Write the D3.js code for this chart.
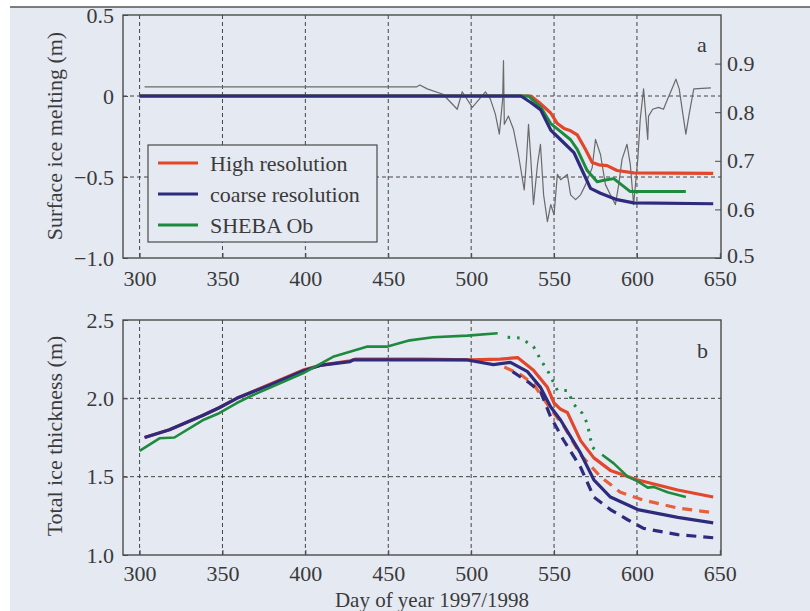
<!DOCTYPE html>
<html>
<head>
<meta charset="utf-8">
<script src="https://cdnjs.cloudflare.com/ajax/libs/d3/7.8.5/d3.min.js"></script>
<style>
  body { margin: 0; background: #fff; }
  svg text { font-family: "Liberation Serif", "DejaVu Serif", serif; fill: #3a3a3a; }
</style>
</head>
<body>
<div id="viz"></div>
<script>
(function() {
  var W = 810, H = 611;

  // x ticks shared by both panels
  var dayTicks = [300, 350, 400, 450, 500, 550, 600, 650];
  var meltTicks = [-1.0, -0.5, 0, 0.5];
  var albedoTicks = [0.5, 0.6, 0.7, 0.8, 0.9];
  var thickTicks = [1.0, 1.5, 2.0, 2.5];
  var legendNames = ["High resolution", "coarse resolution", "SHEBA Ob"];

  // panel a: surface melt (m), [day, value]
  var highMelt = [[300, 0], [536, 0], [541, -0.04], [548, -0.105], [552, -0.17], [556, -0.2], [560, -0.215],
    [564, -0.24], [569, -0.33], [573, -0.41], [577, -0.425], [582, -0.43], [588, -0.46], [598, -0.475], [646, -0.478]];
  var coarseMelt = [[300, 0], [530, 0], [536, -0.04], [542, -0.087], [548, -0.21], [554, -0.27], [562, -0.35],
    [567, -0.46], [572, -0.57], [578, -0.6], [588, -0.64], [598, -0.66], [646, -0.665]];
  var shebaMelt = [[300, 0], [534.6, 0], [542, -0.07], [548, -0.17], [554, -0.22], [560, -0.27], [564, -0.33],
    [570, -0.46], [576, -0.53], [580, -0.52], [586, -0.51], [591, -0.55], [596, -0.59], [629.5, -0.59]];
  // panel a: thin grey line on the right axis
  var albedo = [[303, 0.852], [440, 0.852], [467, 0.852], [469, 0.856], [473.5, 0.848], [483, 0.837], [491.6, 0.806],
    [494.6, 0.842], [500.7, 0.81], [508.6, 0.842], [511.6, 0.827], [514.6, 0.796], [517, 0.755], [519, 0.827],
    [519.5, 0.906], [520, 0.775], [522.5, 0.792], [525.5, 0.765], [528.5, 0.713], [531, 0.661], [532, 0.64],
    [533.4, 0.703], [534.6, 0.775], [536, 0.703], [537.6, 0.61], [540, 0.692], [541.8, 0.734], [543.7, 0.63],
    [546, 0.575], [548, 0.61], [550, 0.589], [552, 0.672], [554, 0.661], [558, 0.672], [560, 0.63], [563, 0.62],
    [566, 0.63], [569, 0.651], [573, 0.686], [575, 0.744], [578, 0.713], [581, 0.651], [584, 0.63], [587, 0.61],
    [589, 0.651], [591, 0.703], [594, 0.734], [596, 0.692], [598, 0.61], [600.5, 0.703], [602, 0.786],
    [604, 0.848], [606.5, 0.744], [607, 0.792], [609.5, 0.806], [613, 0.81], [616, 0.806], [618.5, 0.827],
    [621.6, 0.852], [623.5, 0.868], [625.5, 0.848], [627.7, 0.796], [629.5, 0.755], [631.5, 0.796],
    [633.7, 0.837], [634.3, 0.848], [644.6, 0.85]];

  // panel b: total ice thickness (m)
  var highThick = [[303, 1.75], [318, 1.80], [338, 1.89], [348, 1.94], [358.6, 2.0], [378.6, 2.09], [398.5, 2.18],
    [408.8, 2.21], [427, 2.24], [430, 2.25], [470, 2.25], [500, 2.245], [517.6, 2.25], [528, 2.26], [537.6, 2.18],
    [546, 2.07], [550, 1.97], [554, 1.93], [558, 1.91], [566, 1.73], [574, 1.62], [584, 1.54], [600, 1.48],
    [624.6, 1.415], [646, 1.37]];
  var coarseThick = [[303, 1.75], [318, 1.80], [338, 1.89], [348, 1.94], [358.6, 2.0], [378.6, 2.085], [398.5, 2.175],
    [408.8, 2.21], [427, 2.234], [429, 2.245], [497.7, 2.245], [513.4, 2.215], [523.7, 2.23], [534, 2.17],
    [541.8, 2.07], [548, 1.945], [554, 1.86], [562, 1.72], [566, 1.65], [574, 1.48], [584, 1.37], [600.5, 1.29],
    [624.6, 1.24], [646, 1.205]];
  var highThickDash = [[520, 2.2], [530, 2.15], [537.6, 2.09], [548, 1.93], [556, 1.82], [566, 1.64], [578, 1.50],
    [590, 1.40], [604, 1.35], [624.6, 1.30], [646, 1.27]];
  var coarseThickDash = [[525, 2.17], [535, 2.1], [542, 2.04], [548, 1.88], [555.7, 1.734], [566, 1.56], [574, 1.37],
    [584, 1.29], [594.4, 1.225], [604, 1.17], [624.6, 1.13], [646, 1.11]];
  var shebaThick = [[300, 1.665], [312, 1.745], [321, 1.75], [338, 1.86], [348, 1.905], [358.6, 1.97], [368.3, 2.02],
    [398.5, 2.16], [416.7, 2.265], [437, 2.33], [449, 2.33], [463, 2.37], [477, 2.39], [497.7, 2.40], [516, 2.415]];
  var shebaThickDot = [[522, 2.39], [530, 2.385], [537.6, 2.33], [542, 2.245], [547, 2.16], [552, 2.05], [558, 2.05],
    [562, 1.96], [567, 1.905], [570, 1.84], [573, 1.69], [576, 1.66]];
  var shebaThickLate = [[579, 1.64], [586, 1.585], [594.4, 1.50], [600.5, 1.47], [606.5, 1.43], [610, 1.435],
    [618.5, 1.40], [629.5, 1.37]];

  var red = "#e2472c", navy = "#2f2b7c", green = "#1d8a3e", ink = "#4a4a4a";

  var svg = d3.select("#viz").append("svg").attr("width", W).attr("height", H);
  svg.append("rect").attr("x", 10).attr("y", 7).attr("width", W - 10).attr("height", H - 7).attr("fill", "#e5e9f2");
  svg.append("line").attr("x1", 10).attr("x2", W).attr("y1", 7).attr("y2", 7).attr("stroke", "#555").attr("stroke-width", 1.5);

  var x = d3.scaleLinear().domain([290, 650.7]).range([123, 721]);
  var yA = d3.scaleLinear().domain([-1, 0.5]).range([258, 15]);
  var yA2 = d3.scaleLinear().domain([0.5, 1.0]).range([258, 15]);
  var yB = d3.scaleLinear().domain([1.0, 2.5]).range([555, 320]);

  var fmt = function(d) { return d === 0 ? "0" : d3.format(".1f")(d); };

  var panel = function(y, yTicks, gridY, xPad) {
    var g = svg.append("g");
    var top = y.range()[1], bot = y.range()[0];
    // grid
    g.selectAll(".vg").data(dayTicks.slice(0, 7)).enter().append("line")
      .attr("x1", function(d) { return x(d); }).attr("x2", function(d) { return x(d); })
      .attr("y1", top).attr("y2", bot)
      .attr("stroke", "#444").attr("stroke-width", 1).attr("stroke-dasharray", "4,3");
    g.selectAll(".hg").data(gridY).enter().append("line")
      .attr("x1", x.range()[0]).attr("x2", x.range()[1])
      .attr("y1", function(d) { return y(d); }).attr("y2", function(d) { return y(d); })
      .attr("stroke", "#444").attr("stroke-width", 1).attr("stroke-dasharray", "4,3");
    // axes
    var ax = g.append("g").attr("transform", "translate(0," + bot + ")")
      .call(d3.axisBottom(x).tickValues(dayTicks).tickSize(-5).tickPadding(xPad).tickFormat(d3.format("d")));
    var ay = g.append("g").attr("transform", "translate(" + x.range()[0] + ",0)")
      .call(d3.axisLeft(y).tickValues(yTicks).tickSize(-5).tickPadding(9).tickFormat(fmt));
    [ax, ay].forEach(function(a) {
      a.select(".domain").remove();
      a.selectAll("line").attr("stroke", ink);
      a.selectAll("text").attr("font-size", 22).attr("fill", "#3a3a3a").style("font-family", "Liberation Serif");
    });
    g.append("rect").attr("x", x.range()[0]).attr("y", top)
      .attr("width", x.range()[1] - x.range()[0]).attr("height", bot - top)
      .attr("fill", "none").attr("stroke", ink).attr("stroke-width", 1.4);
    return g;
  };

  var gA = panel(yA, meltTicks, [0, -0.5], 12);
  var gB = panel(yB, thickTicks, [2.0, 1.5], 10);

  var ar = gA.append("g").attr("transform", "translate(" + x.range()[1] + ",0)")
    .call(d3.axisRight(yA2).tickValues(albedoTicks).tickSize(-6).tickPadding(6).tickFormat(d3.format(".1f")));
  ar.select(".domain").remove();
  ar.selectAll("line").attr("stroke", ink);
  ar.selectAll("text").attr("font-size", 22).attr("fill", "#3a3a3a").style("font-family", "Liberation Serif")
    .attr("y", function(d) { return d === 0.5 ? -3 : 0; });

  var lineOf = function(y) {
    return d3.line().x(function(d) { return x(d[0]); }).y(function(d) { return y(d[1]); });
  };
  var draw = function(g, data, y, color, width, dash) {
    var p = g.append("path").datum(data).attr("d", lineOf(y))
      .attr("fill", "none").attr("stroke", color).attr("stroke-width", width)
      .attr("stroke-linejoin", "round");
    if (dash) p.attr("stroke-dasharray", dash);
    return p;
  };

  draw(gA, albedo, yA2, "#6a6a6a", 1.2);
  draw(gA, highMelt, yA, red, 3.2);
  draw(gA, shebaMelt, yA, green, 3);
  draw(gA, coarseMelt, yA, navy, 3.2);

  draw(gB, highThickDash, yB, "#e8603a", 3.2, "10,7");
  draw(gB, coarseThickDash, yB, navy, 3.2, "10,7");
  draw(gB, highThick, yB, red, 3.2);
  draw(gB, coarseThick, yB, navy, 3.2);
  draw(gB, shebaThick, yB, green, 2.6);
  draw(gB, shebaThickDot, yB, green, 3, "2.5,7");
  draw(gB, shebaThickLate, yB, green, 2.6);

  // legend
  var lg = gA.append("g");
  lg.append("rect").attr("x", 148).attr("y", 145).attr("width", 229).attr("height", 97)
    .attr("fill", "#e5e9f2").attr("stroke", ink).attr("stroke-width", 1.2);
  var colors = [red, navy, green];
  legendNames.forEach(function(n, i) {
    var yy = 163 + i * 31;
    lg.append("line").attr("x1", 158).attr("x2", 198).attr("y1", yy).attr("y2", yy)
      .attr("stroke", colors[i]).attr("stroke-width", 3.2);
    lg.append("text").attr("x", 210).attr("y", yy).attr("dy", "0.35em").attr("font-size", 22).text(n);
  });

  // labels
  svg.append("text").attr("x", 697).attr("y", 52).attr("font-size", 22).text("a");
  svg.append("text").attr("x", 697).attr("y", 358).attr("font-size", 22).text("b");
  svg.append("text").attr("transform", "translate(62,136) rotate(-90)").attr("text-anchor", "middle")
    .attr("font-size", 22).text("Surface ice melting (m)");
  svg.append("text").attr("transform", "translate(62,436) rotate(-90)").attr("text-anchor", "middle")
    .attr("font-size", 22).text("Total ice thickness (m)");
  svg.append("text").attr("x", 432).attr("y", 607).attr("text-anchor", "middle")
    .attr("font-size", 21).text("Day of year 1997/1998");
}).call(this);
</script>
</body>
</html>
